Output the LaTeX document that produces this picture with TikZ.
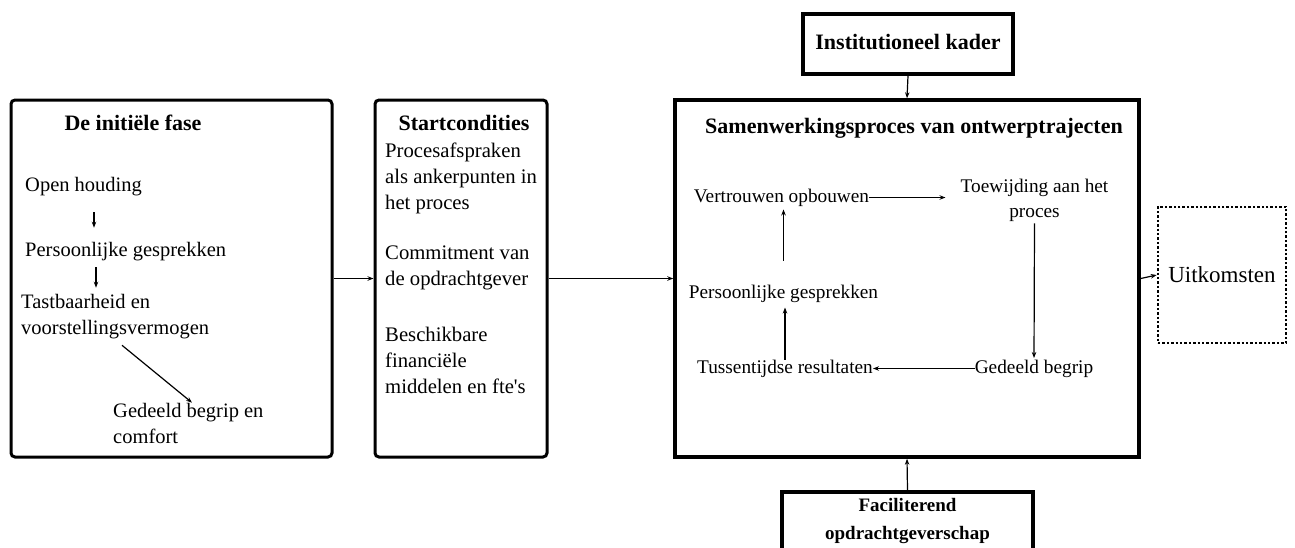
\documentclass[tikz,border=0pt]{standalone}
\usepackage{fontspec}
\setmainfont{Liberation Serif}[Ligatures=TeXOff]
\usetikzlibrary{arrows.meta}
\tikzset{
  rbox/.style={draw, line width=3pt, rounded corners=4pt, inner sep=0pt},
  sbox/.style={draw, line width=3.5pt, inner sep=0pt},
  dbox/.style={draw, line width=2.6pt, dash pattern=on 2.4pt off 2pt, inner sep=0pt},
  ltxt/.style={inner sep=0pt, align=left, font=\fontsize{20.5}{26.5}\selectfont},
  stxt/.style={inner sep=0pt, align=left, font=\fontsize{20.7}{26}\selectfont},
  mtxt/.style={inner sep=0pt, align=center, font=\fontsize{19.3}{25}\selectfont},
  ttl/.style={inner sep=0pt, align=center, font=\fontsize{22}{28}\selectfont\bfseries},
  arr/.style={-{Stealth[length=6pt,width=4.5pt]}, line width=1.2pt},
}
\begin{document}
\begin{tikzpicture}[x=1pt,y=-1pt]
\useasboundingbox (0,0) rectangle (1295,547);
% boxes
\node[rbox, minimum width=321pt, minimum height=357pt] (lbox) at (171.5,278.5) {};
\node[rbox, minimum width=172pt, minimum height=357pt] (stbox) at (461,278.5) {};
\node[sbox, minimum width=464pt, minimum height=357pt] (mbox) at (907,278.5) {};
\node[sbox, minimum width=210pt, minimum height=60pt, ttl] (ibox) at (908,44) {\raisebox{4pt}{Institutioneel kader}};
\node[sbox, line width=4pt, minimum width=251pt, minimum height=58pt, font=\fontsize{19}{28}\selectfont\bfseries, align=center] (fbox) at (907.5,521) {Faciliterend\\opdrachtgeverschap};
\node[dbox, minimum width=128pt, minimum height=136pt, font=\fontsize{23}{28}\selectfont] (ubox) at (1222,275) {Uitkomsten};
% titles
\node[ttl] (t1) at (133,123) {De initiële fase};
\node[ttl] (t2) at (464,123) {Startcondities};
\node[ttl] (t3) at (914,128) {Samenwerkingsproces van ontwerptrajecten};
% left box content
\node[ltxt, anchor=west] (oh) at (25,187) {Open houding};
\node[ltxt, anchor=west] (pg1) at (25,252) {Persoonlijke gesprekken};
\node[ltxt, anchor=west] (tv) at (21,316.5) {Tastbaarheid en\\voorstellingsvermogen};
\node[ltxt, anchor=west] (gbc) at (113,423.3) {Gedeeld begrip en\\comfort};
\draw[arr, shorten <=15.75pt, shorten >=14.75pt] ([xshift=69pt]oh.south west) -- ([xshift=69pt]oh.south west |- pg1.north);
\draw[arr, shorten <=5.75pt, shorten >=6pt] ([xshift=71pt]pg1.south west) -- ([xshift=71pt]pg1.south west |- tv.north);
\draw[arr] ([xshift=101pt,yshift=-6pt]tv.south west) -- ([xshift=79pt]gbc.north west);
% startcondities content
\node[stxt, anchor=west] (p1) at (385,178.25) {Procesafspraken\\als ankerpunten in\\het proces};
\node[stxt, anchor=west] (p2) at (385,268) {Commitment van\\de opdrachtgever};
\node[stxt, anchor=west] (p3) at (385,360.5) {Beschikbare\\financiële\\middelen en fte's};
% main content
\node[mtxt] (vo) at (781.5,197.5) {Vertrouwen opbouwen};
\node[mtxt] (tw) at (1034.5,200) {Toewijding aan het\\proces};
\node[mtxt] (gb) at (1034,368.5) {Gedeeld begrip};
\node[mtxt] (tr) at (785,368.5) {Tussentijdse resultaten};
\node[mtxt] (pg2) at (783.5,293.5) {Persoonlijke gesprekken};
\draw[arr, shorten >=15pt] (vo.east) -- (vo.east -| tw.west);
\draw[arr, shorten <=1.8pt, shorten >=1.5pt] (tw.south) -- (gb.north);
\draw[arr] (gb.west) -- (tr.east);
\draw[arr, shorten >=5pt] (tr.north) -- (tr.north |- pg2.south);
\draw[arr, shorten <=24pt, shorten >=3pt] (pg2.north) -- (pg2.north |- vo.south);
% connectors between boxes
\draw[arr] (lbox.east) -- (stbox.west);
\draw[arr] (stbox.east) -- (mbox.west);
\draw[arr] (ibox.south) -- (mbox.north);
\draw[arr] (fbox.north) -- (mbox.south);
\draw[arr] (mbox.east) -- (ubox.west);
\end{tikzpicture}
\end{document}
